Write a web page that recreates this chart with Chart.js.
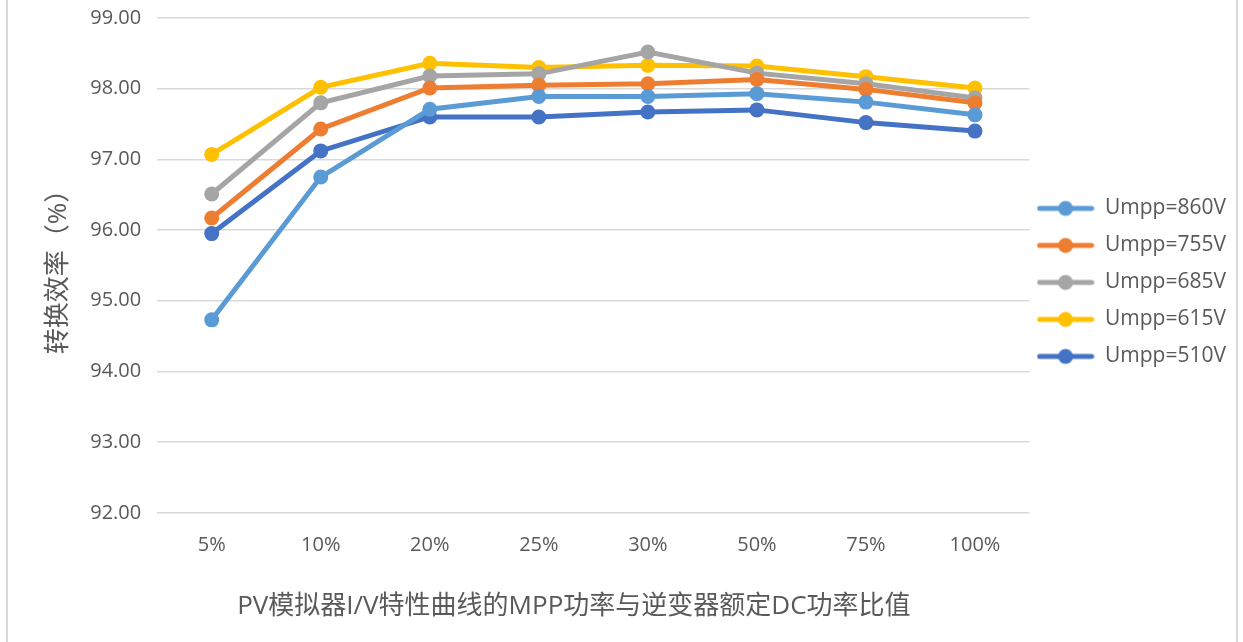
<!DOCTYPE html>
<html>
<head>
<meta charset="utf-8">
<script src="https://cdn.jsdelivr.net/npm/chart.js@4"></script>
<style>
  html, body { margin: 0; padding: 0; background: #fff; }
  #wrap { position: absolute; left: 0; top: 0; width: 1243px; height: 642px; }
  .edge { position: absolute; top: 0; width: 2px; height: 642px; background: #d9d9d9; }
</style>
</head>
<body>
<div id="wrap"><canvas id="effChart" width="1243" height="642"></canvas></div>
<div class="edge" style="left:6px"></div>
<div class="edge" style="left:1236px"></div>
<script>
// 横轴类别
const categories = ['5%', '10%', '20%', '25%', '30%', '50%', '75%', '100%'];

// 各电压下的转换效率（%）
const umpp860 = [94.73, 96.75, 97.71, 97.89, 97.89, 97.93, 97.81, 97.63];
const umpp755 = [96.17, 97.43, 98.01, 98.05, 98.07, 98.13, 97.99, 97.80];
const umpp685 = [96.51, 97.80, 98.18, 98.21, 98.52, 98.22, 98.07, 97.87];
const umpp615 = [97.07, 98.02, 98.36, 98.30, 98.33, 98.32, 98.17, 98.01];
const umpp510 = [95.95, 97.12, 97.60, 97.60, 97.67, 97.70, 97.52, 97.40];

const seriesNames = ['Umpp=860V', 'Umpp=755V', 'Umpp=685V', 'Umpp=615V', 'Umpp=510V'];
const seriesColors = ['#5B9BD5', '#ED7D31', '#A5A5A5', '#FFC000', '#4472C4'];

// 纵轴范围
const yMin = 92;
const yMax = 99;
const yStep = 1;

const textColor = '#595959';
const fontFam = '"Open Sans", "Noto Sans CJK SC", sans-serif';

// 图例小图标：线 + 圆点
function legendIcon(color) {
  const c = document.createElement('canvas');
  c.width = 58;
  c.height = 18;
  const g = c.getContext('2d');
  g.strokeStyle = color;
  g.lineWidth = 5;
  g.lineCap = 'round';
  g.beginPath();
  g.moveTo(3, 9);
  g.lineTo(55, 9);
  g.stroke();
  g.fillStyle = color;
  g.beginPath();
  g.arc(29, 9, 7.5, 0, Math.PI * 2);
  g.fill();
  return c;
}

// 图例位置微调
const legendNudge = {
  id: 'legendNudge',
  afterLayout(chart) {
    const lg = chart.legend;
    lg.left -= 9; lg.right -= 9;
    lg.top += 17; lg.bottom += 17;
  }
};

const allData = [umpp860, umpp755, umpp685, umpp615, umpp510];

const ctx = document.getElementById('effChart');

new Chart(ctx, {
  type: 'line',
  data: {
    labels: categories,
    datasets: allData.map((d, i) => ({
      label: seriesNames[i],
      data: d,
      borderColor: seriesColors[i],
      backgroundColor: seriesColors[i],
      borderWidth: 5,
      pointRadius: 7.5,
      pointBorderWidth: 0,
      pointBackgroundColor: seriesColors[i],
      tension: 0,
      fill: false
    }))
  },
  plugins: [legendNudge],
  options: {
    responsive: false,
    animation: false,
    layout: { padding: { top: 0, left: 43, right: -2, bottom: 16 } },
    plugins: {
      tooltip: { enabled: false },
      legend: {
        position: 'right',
        fullSize: false,
        labels: {
          usePointStyle: true,
          pointStyleWidth: 58,
          padding: 16,
          color: textColor,
          font: { family: fontFam, size: 21 },
          generateLabels: (chart) => chart.data.datasets.map((ds, i) => ({
            text: ds.label,
            fontColor: textColor,
            pointStyle: legendIcon(seriesColors[i]),
            datasetIndex: i,
            lineWidth: 0,
            hidden: false
          }))
        }
      }
    },
    scales: {
      x: {
        offset: true,
        grid: { display: false },
        border: { display: false },
        ticks: { color: textColor, font: { family: fontFam, size: 20 }, padding: 12 },
        title: {
          display: true,
          text: 'PV模拟器I/V特性曲线的MPP功率与逆变器额定DC功率比值\u2002\u2002\u2002',
          color: textColor,
          font: { family: fontFam, size: 26 },
          padding: { top: 22 }
        }
      },
      y: {
        min: yMin,
        max: yMax,
        grid: { color: '#d9d9d9', lineWidth: 1.5, drawTicks: false },
        border: { display: false },
        afterFit: (s) => { s.paddingTop = 18; s.paddingBottom = 12; },
        ticks: {
          stepSize: yStep,
          color: textColor,
          font: { family: fontFam, size: 20 },
          padding: 16,
          callback: (v) => v.toFixed(2)
        },
        title: {
          display: true,
          text: '转换效率（%）',
          color: textColor,
          font: { family: fontFam, size: 26 },
          padding: 0
        }
      }
    }
  }
});
</script>
</body>
</html>
